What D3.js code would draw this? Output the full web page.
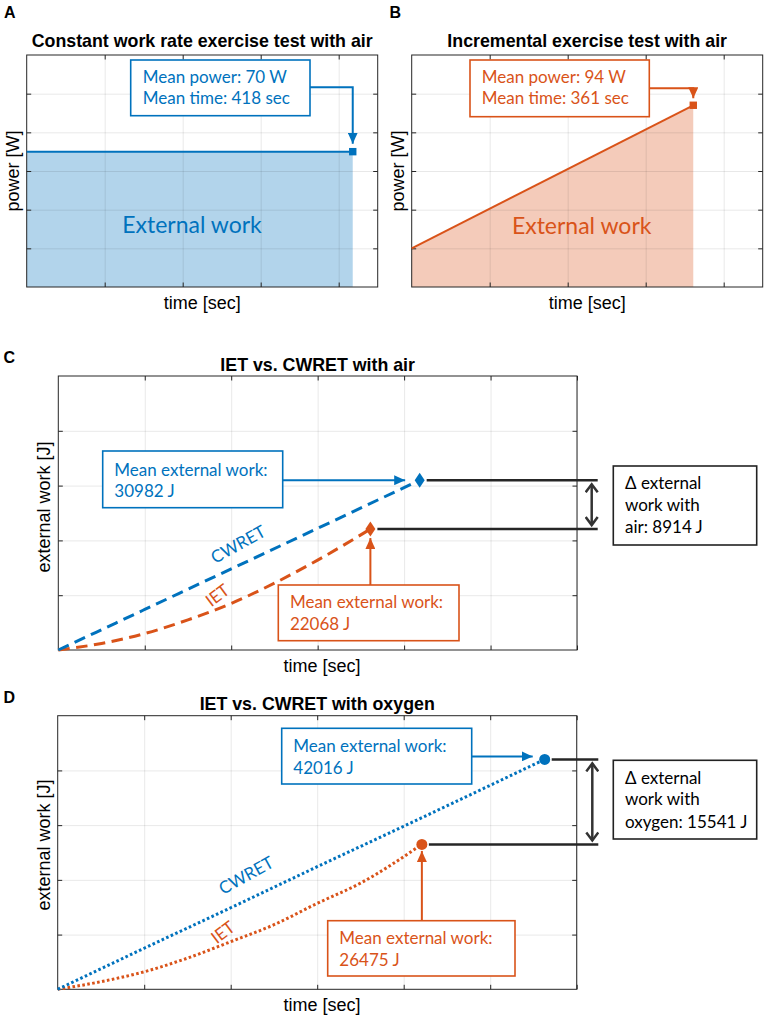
<!DOCTYPE html>
<html>
<head>
<meta charset="utf-8">
<script src="https://cdn.jsdelivr.net/npm/d3@7"></script>
<style>
  body { margin: 0; background: #fff; }
  svg { display: block; }
</style>
</head>
<body>
<script>
// ---- data ----
// panel A: constant work rate test (air)
const aTime = [0, 418];
const aPower = [70, 70];
// panel B: incremental test (air)
const bTime = [0, 361];
const bPower = [20, 94];
// panel C: cumulative external work, air
const cwretAirTime = [0, 100, 200, 300, 418];
const cwretAirWork = [0, 7400, 14800, 22200, 30982];
const ietAirTime = [0, 50, 100, 150, 200, 250, 300, 361];
const ietAirWork = [0, 1200, 3000, 5500, 8500, 12200, 16400, 22068];
// panel D: cumulative external work, oxygen
const cwretOxyTime = [0, 100, 200, 300, 400, 563];
const cwretOxyWork = [0, 7500, 14900, 22400, 29800, 42016];
const ietOxyTime = [0, 50, 100, 150, 200, 250, 300, 350, 421];
const ietOxyWork = [0, 1400, 3200, 5700, 8700, 11800, 15700, 19400, 26475];

const powerTicks = [0, 20, 40, 60, 80, 100, 120];
const timeTicksAB = [0, 100, 200, 300, 400];
const timeTicksCD = [0, 100, 200, 300, 400, 500, 600];
const workTicks = [0, 10000, 20000, 30000, 40000, 50000];

const blue = "#0072BD";
const red = "#D95319";
const ink = "#262626";
const noteFont = "Lato, 'Open Sans', sans-serif";
const axFont = "'Liberation Sans', Arial, sans-serif";

const svg = d3.select('body').append('svg')
    .attr('width', 765)
    .attr('height', 1017);

// arrow heads
const defs = svg.append('defs');
[['headBlue', blue], ['headRed', red]].forEach(([id, c]) => {
  defs.append('marker')
      .attr('id', id)
      .attr('markerUnits', 'userSpaceOnUse')
      .attr('markerWidth', 12).attr('markerHeight', 10)
      .attr('refX', 11).attr('refY', 5)
      .attr('orient', 'auto')
    .append('path')
      .attr('d', 'M0,0 L11,5 L0,10 Z')
      .attr('fill', c);
});
defs.append('marker')
    .attr('id', 'headDark')
    .attr('markerUnits', 'userSpaceOnUse')
    .attr('markerWidth', 12).attr('markerHeight', 14)
    .attr('refX', 9).attr('refY', 7)
    .attr('orient', 'auto-start-reverse')
  .append('path')
    .attr('d', 'M1,1 L9,7 L1,13')
    .attr('fill', 'none')
    .attr('stroke', '#333')
    .attr('stroke-width', 2.5);

// axes frame with MATLAB-like grid and inner ticks
function frame(g, x, y, xTicks, yTicks) {
  const [left, right] = x.range();
  const [bottom, top] = y.range();
  const w = right - left, h = bottom - top;

  g.append('g')
      .attr('transform', `translate(0,${bottom})`)
      .call(d3.axisBottom(x).tickValues(xTicks.slice(1)).tickSize(-h).tickFormat(''))
      .call(a => a.select('.domain').remove())
      .call(a => a.selectAll('line').attr('stroke', '#000').attr('stroke-opacity', 0.09));
  g.append('g')
      .attr('transform', `translate(${left},0)`)
      .call(d3.axisLeft(y).tickValues(yTicks.slice(1, -1)).tickSize(-w).tickFormat(''))
      .call(a => a.select('.domain').remove())
      .call(a => a.selectAll('line').attr('stroke', '#000').attr('stroke-opacity', 0.09));

  const tl = 4.5;
  const ticks = [
    [d3.axisBottom(x).tickValues(xTicks.slice(1)), `translate(0,${bottom})`],
    [d3.axisTop(x).tickValues(xTicks.slice(1)), `translate(0,${top})`],
    [d3.axisLeft(y).tickValues(yTicks.slice(1, -1)), `translate(${left},0)`],
    [d3.axisRight(y).tickValues(yTicks.slice(1, -1)), `translate(${right},0)`]
  ];
  ticks.forEach(([ax, tr]) => {
    g.append('g')
        .attr('transform', tr)
        .call(ax.tickSize(-tl).tickFormat(''))
        .call(a => a.select('.domain').remove())
        .call(a => a.selectAll('line').attr('stroke', ink).attr('stroke-width', 1));
  });

  g.append('rect')
      .attr('x', left).attr('y', top)
      .attr('width', w).attr('height', h)
      .attr('fill', 'none')
      .attr('stroke', ink)
      .attr('stroke-width', 1);
}

function label(g, txt, x, y, opts) {
  const t = g.append('text')
      .attr('x', x).attr('y', y)
      .attr('font-family', opts.font || axFont)
      .attr('font-size', opts.size || 18)
      .attr('font-weight', opts.weight || 'normal')
      .attr('fill', opts.color || '#000')
      .attr('text-anchor', opts.anchor || 'middle')
      .text(txt);
  if (opts.rotate) t.attr('transform', `rotate(${opts.rotate},${x},${y})`);
  return t;
}

function noteBox(g, box, color, lines, tx, baselines, stroke) {
  g.append('rect')
      .attr('x', box[0]).attr('y', box[1])
      .attr('width', box[2] - box[0]).attr('height', box[3] - box[1])
      .attr('fill', '#fff')
      .attr('stroke', stroke || color)
      .attr('stroke-width', 1.6);
  lines.forEach((s, i) => {
    label(g, s, tx, baselines[i], { font: noteFont, size: 17, color: color, anchor: 'start' });
  });
}

// ================= panel A =================
const gA = svg.append('g');
const xA = d3.scaleLinear().domain([0, 450]).range([26.7, 377.7]);
const yA = d3.scaleLinear().domain([0, 120]).range([287, 55]);

gA.append('path')
    .datum(aTime.map((t, i) => [t, aPower[i]]))
    .attr('fill', blue).attr('fill-opacity', 0.3)
    .attr('d', d3.area().x(d => xA(d[0])).y0(yA(0)).y1(d => yA(d[1])));
frame(gA, xA, yA, timeTicksAB, powerTicks);
gA.append('path')
    .datum(aTime.map((t, i) => [t, aPower[i]]))
    .attr('fill', 'none').attr('stroke', blue).attr('stroke-width', 2)
    .attr('d', d3.line().x(d => xA(d[0])).y(d => yA(d[1])));
gA.append('rect')
    .attr('x', xA(aTime[1]) - 3.7).attr('y', yA(aPower[1]) - 3.7)
    .attr('width', 7.4).attr('height', 7.4).attr('fill', blue);
gA.append('path')
    .attr('d', `M310,87.3 H${xA(aTime[1])} V${yA(aPower[1]) - 8}`)
    .attr('fill', 'none').attr('stroke', blue).attr('stroke-width', 2)
    .attr('marker-end', 'url(#headBlue)');
noteBox(gA, [130.7, 60, 310, 115.7], blue, ['Mean power: 70 W', 'Mean time: 418 sec'], 142.7, [82.5, 103.5]);
label(gA, 'External work', 192, 233, { font: noteFont, size: 23, color: blue });
label(gA, 'Constant work rate exercise test with air', 202.2, 47, { size: 17.8, weight: 'bold' });
label(gA, 'time [sec]', 202.2, 309, {});
label(gA, 'power [W]', 19, 171, { rotate: -90 });
label(gA, 'A', 4, 18.3, { size: 16, weight: 'bold', anchor: 'start' });

// ================= panel B =================
const gB = svg.append('g');
const xB = d3.scaleLinear().domain([0, 450]).range([411.7, 762.7]);
const yB = d3.scaleLinear().domain([0, 120]).range([287, 55]);

gB.append('path')
    .datum(bTime.map((t, i) => [t, bPower[i]]))
    .attr('fill', red).attr('fill-opacity', 0.3)
    .attr('d', d3.area().x(d => xB(d[0])).y0(yB(0)).y1(d => yB(d[1])));
frame(gB, xB, yB, timeTicksAB, powerTicks);
gB.append('path')
    .datum(bTime.map((t, i) => [t, bPower[i]]))
    .attr('fill', 'none').attr('stroke', red).attr('stroke-width', 2)
    .attr('d', d3.line().x(d => xB(d[0])).y(d => yB(d[1])));
gB.append('rect')
    .attr('x', xB(bTime[1]) - 3.7).attr('y', yB(bPower[1]) - 3.7)
    .attr('width', 7.4).attr('height', 7.4).attr('fill', red);
gB.append('path')
    .attr('d', `M649.3,88.3 H${xB(bTime[1])} V${yB(bPower[1]) - 7}`)
    .attr('fill', 'none').attr('stroke', red).attr('stroke-width', 2)
    .attr('marker-end', 'url(#headRed)');
noteBox(gB, [470, 60, 649.3, 116.7], red, ['Mean power: 94 W', 'Mean time: 361 sec'], 481.7, [83, 104.3]);
label(gB, 'External work', 581.7, 234, { font: noteFont, size: 23, color: red });
label(gB, 'Incremental exercise test with air', 587.2, 47, { size: 17.8, weight: 'bold' });
label(gB, 'time [sec]', 587.2, 309, {});
label(gB, 'power [W]', 404, 171, { rotate: -90 });
label(gB, 'B', 389.5, 18.3, { size: 16, weight: 'bold', anchor: 'start' });

// ================= panels C and D =================
function workPanel(cfg) {
  const g = svg.append('g');
  const x = d3.scaleLinear().domain([0, 600]).range(cfg.xr);
  const y = d3.scaleLinear().domain([0, 50000]).range(cfg.yr);
  frame(g, x, y, timeTicksCD, workTicks);

  const line = d3.line().curve(d3.curveMonotoneX).x(d => x(d[0])).y(d => y(d[1]));
  const series = [
    [cfg.ietT, cfg.ietW, red],
    [cfg.cwT, cfg.cwW, blue]
  ];
  series.forEach(([T, W, c]) => {
    g.append('path')
        .datum(T.map((t, i) => [t, W[i]]))
        .attr('fill', 'none').attr('stroke', c).attr('stroke-width', 3)
        .attr('stroke-dasharray', cfg.dash)
        .attr('d', line);
  });

  const cwEnd = [cfg.cwT[cfg.cwT.length - 1], cfg.cwW[cfg.cwW.length - 1]];
  const ietEnd = [cfg.ietT[cfg.ietT.length - 1], cfg.ietW[cfg.ietW.length - 1]];

  // difference lines + double arrow
  const xr = cfg.deltaX;
  g.append('line').attr('x1', x(cwEnd[0]) + 7).attr('x2', xr).attr('y1', y(cwEnd[1])).attr('y2', y(cwEnd[1]))
      .attr('stroke', ink).attr('stroke-width', 2.5);
  g.append('line').attr('x1', x(ietEnd[0]) + 7).attr('x2', xr).attr('y1', y(ietEnd[1])).attr('y2', y(ietEnd[1]))
      .attr('stroke', ink).attr('stroke-width', 2.5);
  g.append('line')
      .attr('x1', xr - 6).attr('x2', xr - 6)
      .attr('y1', y(cwEnd[1]) + 4).attr('y2', y(ietEnd[1]) - 4)
      .attr('stroke', '#333').attr('stroke-width', 2.5)
      .attr('marker-start', 'url(#headDark)')
      .attr('marker-end', 'url(#headDark)');

  // end markers
  [[cwEnd, blue], [ietEnd, red]].forEach(([p, c]) => {
    if (cfg.marker === 'diamond') {
      const cx = x(p[0]), cy = y(p[1]);
      g.append('path')
          .attr('d', `M${cx},${cy - 7.5} L${cx + 5},${cy} L${cx},${cy + 7.5} L${cx - 5},${cy} Z`)
          .attr('fill', c);
    } else {
      g.append('circle').attr('cx', x(p[0])).attr('cy', y(p[1])).attr('r', 5.5).attr('fill', c);
    }
  });

  // callouts
  g.append('line')
      .attr('x1', cfg.blueBox[2]).attr('x2', x(cwEnd[0]) - cfg.blueGap)
      .attr('y1', y(cwEnd[1]) + cfg.blueDy).attr('y2', y(cwEnd[1]) + cfg.blueDy)
      .attr('stroke', blue).attr('stroke-width', 2)
      .attr('marker-end', 'url(#headBlue)');
  g.append('line')
      .attr('x1', x(ietEnd[0])).attr('x2', x(ietEnd[0]))
      .attr('y1', cfg.redBox[1]).attr('y2', y(ietEnd[1]) + cfg.redGap)
      .attr('stroke', red).attr('stroke-width', 2)
      .attr('marker-end', 'url(#headRed)');
  noteBox(g, cfg.blueBox, blue, ['Mean external work:', cwEnd[1] + ' J'], cfg.blueBox[0] + 11.6, cfg.blueBase);
  noteBox(g, cfg.redBox, red, ['Mean external work:', ietEnd[1] + ' J'], cfg.redBox[0] + 11.6, cfg.redBase);
  noteBox(g, cfg.deltaBox, '#000', cfg.deltaLines, cfg.deltaBox[0] + 11.7, cfg.deltaBase, '#222');

  label(g, 'CWRET', cfg.cwLab[0], cfg.cwLab[1], { font: noteFont, size: 17, color: blue, rotate: -29 });
  label(g, 'IET', cfg.ietLab[0], cfg.ietLab[1], { font: noteFont, size: 17, color: red, rotate: -37 });

  const mid = (cfg.xr[0] + cfg.xr[1]) / 2;
  label(g, cfg.title, mid, cfg.yr[1] - 5.5, { size: 17.8, weight: 'bold' });
  label(g, 'time [sec]', 322, cfg.yr[0] + 21.5, {});
  label(g, 'external work [J]', 50, cfg.ylabY, { rotate: -90 });
  label(g, cfg.letter, 3.5, cfg.letterY, { size: 16, weight: 'bold', anchor: 'start' });
}

workPanel({
  letter: 'C', letterY: 362.5,
  title: 'IET vs. CWRET with air',
  xr: [58.3, 577], yr: [650, 376],
  cwT: cwretAirTime, cwW: cwretAirWork,
  ietT: ietAirTime, ietW: ietAirWork,
  dash: '11.5,6.5', marker: 'diamond',
  deltaX: 597.7,
  blueBox: [102.7, 451, 282.7, 507.7], blueBase: [475.5, 497], blueGap: 14.5, blueDy: 0,
  redBox: [278.3, 585, 459, 640.7], redBase: [607.5, 629.5], redGap: 9,
  deltaBox: [613.3, 466, 756.7, 545],
  deltaLines: ['Δ external', 'work with', 'air: 8914 J'],
  deltaBase: [488.5, 510.7, 532.7],
  cwLab: [241, 549.5], ietLab: [221, 600],
  ylabY: 507
});

workPanel({
  letter: 'D', letterY: 702.5,
  title: 'IET vs. CWRET with oxygen',
  xr: [57.7, 576.7], yr: [989.3, 715.7],
  cwT: cwretOxyTime, cwW: cwretOxyWork,
  ietT: ietOxyTime, ietW: ietOxyWork,
  dash: '2.6,2.4', marker: 'circle',
  deltaX: 598.3,
  blueBox: [281.7, 728.3, 471.7, 784], blueBase: [752, 773.5], blueGap: 12, blueDy: -3,
  redBox: [327.7, 920.7, 515, 976], redBase: [944.3, 966], redGap: 6.5,
  deltaBox: [613.3, 760.3, 756.7, 839],
  deltaLines: ['Δ external', 'work with', 'oxygen: 15541 J'],
  deltaBase: [783.5, 805.3, 827.5],
  cwLab: [249, 880.5], ietLab: [226.5, 937],
  ylabY: 845
});
</script>
</body>
</html>
